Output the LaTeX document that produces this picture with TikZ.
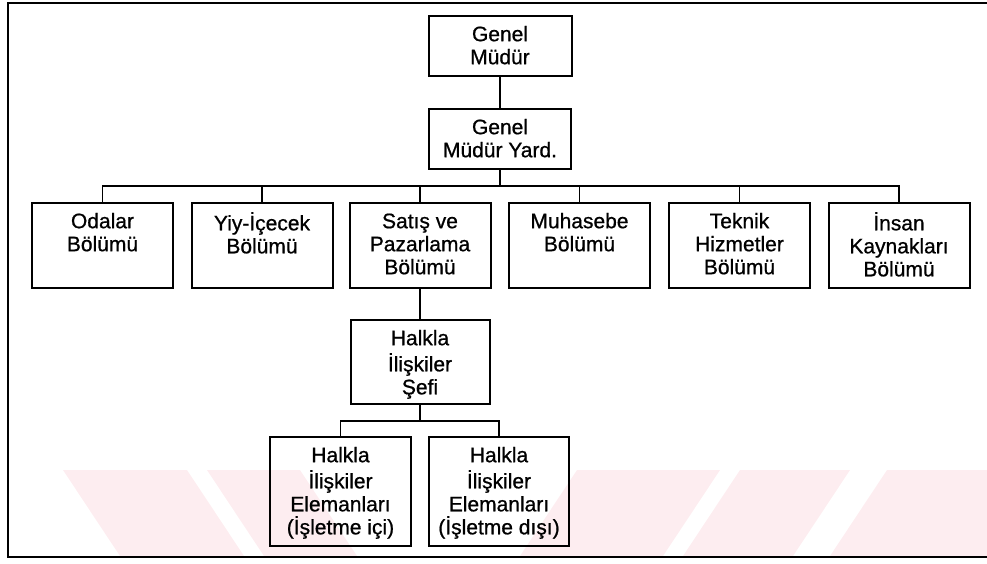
\documentclass[tikz,border=0pt]{standalone}
\usepackage{fontspec}
\setmainfont[FakeBold=0.8]{Liberation Sans}
\definecolor{wm}{RGB}{253,237,240}
\begin{document}
\begin{tikzpicture}[x=1pt,y=-1pt,
  box/.style={draw=black, line width=2pt, rectangle, inner sep=0pt},
  l3/.style={box, minimum width=141pt, minimum height=85pt},
  lbl/.style={anchor=north, inner sep=0pt, align=center, yshift=-9.9pt,
              font=\fontsize{21}{23}\selectfont},
  conn/.style={draw=black, line width=1.8pt}]
\useasboundingbox (0,0) rectangle (987,563);
% watermark bands
\fill[wm] (63,470) -- (187,470) -- (244,556) -- (120,556) -- cycle;
\fill[wm] (207,470) -- (300,470) -- (357,556) -- (264,556) -- cycle;
\fill[wm] (577,470) -- (720,470) -- (663,556) -- (520,556) -- cycle;
\fill[wm] (740,470) -- (850,470) -- (793,556) -- (683,556) -- cycle;
\fill[wm] (887,470) -- (987,470) -- (987,556) -- (830,556) -- cycle;
% frame
\draw[line width=2.4pt] (987,3) -- (8,3) -- (8,557) -- (987,557);
% boxes
\node[box, minimum width=143pt, minimum height=60pt] (gm) at (500,46) {};
\node[lbl] (gmt) at (gm.north) {\strut Genel\\Müdür};
\node[box, minimum width=142pt, minimum height=60pt] (gmy) at (500,139) {};
\node[lbl] (gmyt) at (gmy.north) {\strut Genel\\Müdür Yard.};
\node[l3] (oda) at (102.5,245.5) {};
\node[lbl] (odat) at (oda.north) {\strut Odalar\\Bölümü};
\node[l3] (yiy) at (262,245.5) {};
\node[lbl] (yiyt) at (yiy.north) {\strut Yiy-İçecek\\Bölümü};
\node[l3] (sat) at (420,245.5) {};
\node[lbl] (satt) at (sat.north) {\strut Satış ve\\Pazarlama\\Bölümü};
\node[l3] (muh) at (579.5,245.5) {};
\node[lbl] (muht) at (muh.north) {\strut Muhasebe\\Bölümü};
\node[l3] (tek) at (739.5,245.5) {};
\node[lbl] (tekt) at (tek.north) {\strut Teknik\\Hizmetler\\Bölümü};
\node[l3] (ins) at (899,245.5) {};
\node[lbl] (inst) at (ins.north) {\strut İnsan\\Kaynakları\\Bölümü};
\node[box, minimum width=139pt, minimum height=84pt] (sef) at (420,362) {};
\node[lbl] (seft) at (sef.north) {\strut Halkla\\İlişkiler\\Şefi};
\node[box, minimum width=141pt, minimum height=109pt] (ic) at (340.5,491.5) {};
\node[lbl] (ict) at (ic.north) {\strut Halkla\\İlişkiler\\Elemanları\\(İşletme içi)};
\node[box, minimum width=140pt, minimum height=109pt] (dis) at (499,491.5) {};
\node[lbl] (dist) at (dis.north) {\strut Halkla\\İlişkiler\\Elemanları\\(İşletme dışı)};
% connectors
\coordinate (bus) at (500,186);
\coordinate (sbus) at (420,421);
\draw[conn] (gm.south) -- (gmy.north);
\draw[conn] (gmy.south) -- (bus);
\foreach \n in {oda,yiy,sat,muh,tek,ins} \draw[conn] (\n.north) |- (bus);
\draw[conn] (sat.south) -- (sef.north);
\draw[conn] (sef.south) -- (sbus);
\draw[conn] (ic.north) |- (sbus);
\draw[conn] (dis.north) |- (sbus);
\end{tikzpicture}
\end{document}
